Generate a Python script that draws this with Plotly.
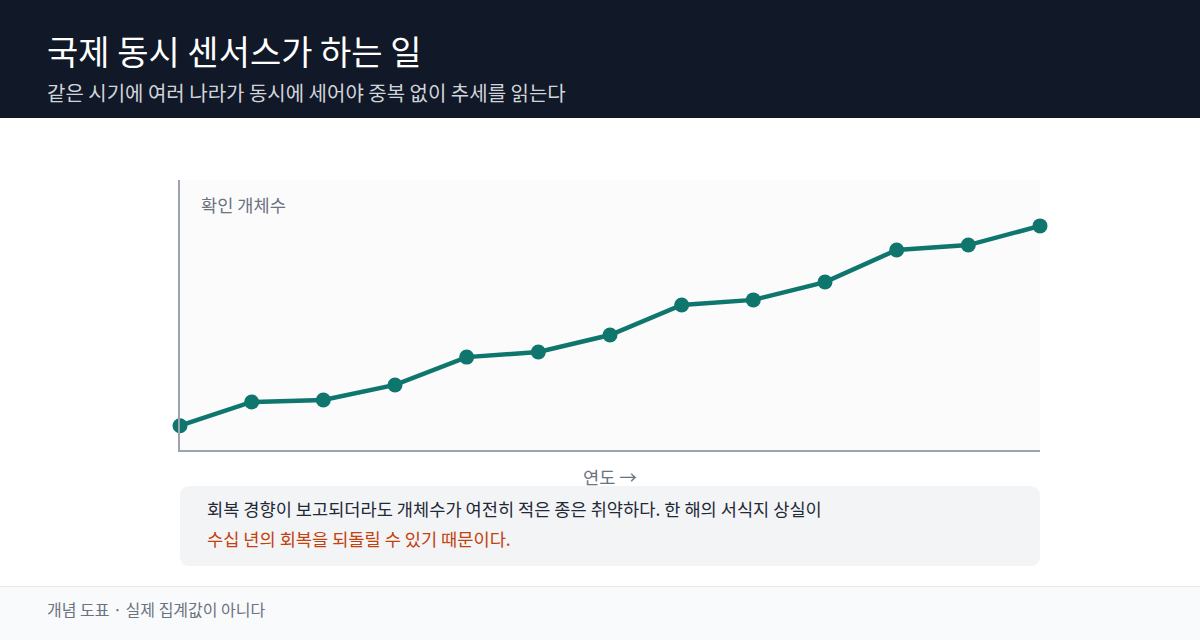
import plotly.graph_objects as go

# Data
years_idx = list(range(13))
counts = [9.0, 17.8, 18.5, 24.1, 34.4, 36.3, 42.6, 53.7, 55.6, 62.2, 74.1, 75.9, 83.0]

title = "국제 동시 센서스가 하는 일"
subtitle = "같은 시기에 여러 나라가 동시에 세어야 중복 없이 추세를 읽는다"
y_label = "확인 개체수"
x_label = "연도 →"
note_line1 = "회복 경향이 보고되더라도 개체수가 여전히 적은 종은 취약하다. 한 해의 서식지 상실이"
note_line2 = "수십 년의 회복을 되돌릴 수 있기 때문이다."
footer = "개념 도표 · 실제 집계값이 아니다"

W, H = 1200, 640
L, R, T, B = 180, 1040, 180, 450
FONT = "Noto Sans CJK KR, Noto Sans, sans-serif"


def px(x):
    return (x - L) / (R - L)


def py(y):
    return (B - y) / (B - T)


def rounded_rect(x0, y0, x1, y1, r):
    rx = r / (R - L)
    ry = r / (B - T)
    X0, X1 = px(x0), px(x1)
    Yt, Yb = py(y0), py(y1)
    return (f"M {X0+rx},{Yt} L {X1-rx},{Yt} Q {X1},{Yt} {X1},{Yt-ry} "
            f"L {X1},{Yb+ry} Q {X1},{Yb} {X1-rx},{Yb} "
            f"L {X0+rx},{Yb} Q {X0},{Yb} {X0},{Yb+ry} "
            f"L {X0},{Yt-ry} Q {X0},{Yt} {X0+rx},{Yt} Z")


fig = go.Figure()
fig.add_trace(go.Scatter(
    x=years_idx, y=counts, mode="lines+markers",
    line=dict(color="#0f766e", width=4.5),
    marker=dict(color="#0f766e", size=15),
    cliponaxis=False, hoverinfo="skip", showlegend=False,
))

shapes = [
    dict(type="rect", xref="paper", yref="paper", x0=px(0), x1=px(W), y0=py(118), y1=py(0),
         fillcolor="#111827", line=dict(width=0), layer="below"),
    dict(type="rect", xref="paper", yref="paper", x0=0, x1=1, y0=0, y1=1,
         fillcolor="#fbfbfb", line=dict(width=0), layer="below"),
    dict(type="path", xref="paper", yref="paper", path=rounded_rect(180, 486, 1040, 566, 10),
         fillcolor="#f3f4f6", line=dict(width=0), layer="below"),
    dict(type="rect", xref="paper", yref="paper", x0=px(0), x1=px(W), y0=py(H), y1=py(586),
         fillcolor="#f9fafb", line=dict(width=0), layer="below"),
    dict(type="line", xref="paper", yref="paper", x0=px(0), x1=px(W), y0=py(586.5), y1=py(586.5),
         line=dict(color="#e5e7eb", width=1), layer="below"),
]

annotations = [
    dict(text=title, x=px(45), y=py(51), xref="paper", yref="paper", xanchor="left", yanchor="middle",
         showarrow=False, font=dict(family=FONT, size=34, color="#ffffff")),
    dict(text=subtitle, x=px(45), y=py(92), xref="paper", yref="paper", xanchor="left", yanchor="middle",
         showarrow=False, font=dict(family=FONT, size=20, color="#d1d5db")),
    dict(text=y_label, x=px(199), y=py(204), xref="paper", yref="paper", xanchor="left", yanchor="middle",
         showarrow=False, font=dict(family=FONT, size=17.6, color="#6b7280")),
    dict(text=x_label, x=px(610), y=py(476), xref="paper", yref="paper", xanchor="center", yanchor="middle",
         showarrow=False, font=dict(family=FONT, size=17.6, color="#6b7280")),
    dict(text=note_line1, x=px(205), y=py(508), xref="paper", yref="paper", xanchor="left", yanchor="middle",
         showarrow=False, font=dict(family=FONT, size=17.6, color="#1f2937")),
    dict(text=note_line2, x=px(205), y=py(538), xref="paper", yref="paper", xanchor="left", yanchor="middle",
         showarrow=False, font=dict(family=FONT, size=17.6, color="#c2410c")),
    dict(text=footer, x=px(45), y=py(609), xref="paper", yref="paper", xanchor="left", yanchor="middle",
         showarrow=False, font=dict(family=FONT, size=16, color="#6b7280")),
]

fig.update_layout(
    width=W, height=H,
    margin=dict(l=L, r=W - R, t=T, b=H - B, pad=0),
    paper_bgcolor="#ffffff", plot_bgcolor="rgba(0,0,0,0)",
    shapes=shapes, annotations=annotations,
    font=dict(family=FONT),
    xaxis=dict(range=[0, 12], showgrid=False, zeroline=False, showticklabels=False, ticks="",
               showline=True, linecolor="#9ca3af", linewidth=2, fixedrange=True),
    yaxis=dict(range=[0, 100], showgrid=False, zeroline=False, showticklabels=False, ticks="",
               showline=True, linecolor="#9ca3af", linewidth=2, fixedrange=True),
    hovermode=False,
)

fig.write_html("out.html", config=dict(displayModeBar=False))
